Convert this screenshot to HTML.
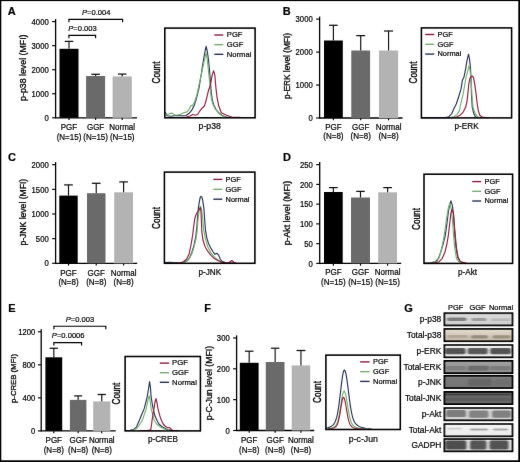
<!DOCTYPE html><html><head><meta charset="utf-8"><style>html,body{margin:0;padding:0;background:#fff;}svg{display:block;will-change:transform;font-family:"Liberation Sans",sans-serif;}text{stroke:#000;stroke-width:0.2px;paint-order:stroke;}text.r{stroke-width:0.3px;}</style></head><body>
<svg width="520" height="462" viewBox="0 0 520 462">
<rect x="0" y="0" width="520" height="462" fill="#fff"/>
<defs><filter id="soft" x="0" y="0" width="100%" height="100%" filterUnits="userSpaceOnUse"><feConvolveMatrix order="3" kernelMatrix="0.00276 0.04704 0.00276 0.04704 0.80077 0.04704 0.00276 0.04704 0.00276" edgeMode="duplicate" preserveAlpha="false"/></filter></defs><g filter="url(#soft)">
<text x="0" y="0" font-size="11" text-anchor="start" font-weight="bold" font-style="normal" fill="#000" transform="translate(7.8 15)">A</text>
<line x1="55.6" y1="19" x2="55.6" y2="118.4" stroke="#000" stroke-width="1.3"/>
<line x1="52.1" y1="117.8" x2="55.6" y2="117.8" stroke="#000" stroke-width="1.15"/>
<text x="0" y="0" font-size="7.7" text-anchor="end" font-weight="normal" font-style="normal" fill="#000" transform="translate(48.7 120.95) scale(1.0 1.2)">0</text>
<line x1="52.1" y1="93.75" x2="55.6" y2="93.75" stroke="#000" stroke-width="1.15"/>
<text x="0" y="0" font-size="7.7" text-anchor="end" font-weight="normal" font-style="normal" fill="#000" transform="translate(48.7 96.9) scale(1.0 1.2)">1000</text>
<line x1="52.1" y1="69.7" x2="55.6" y2="69.7" stroke="#000" stroke-width="1.15"/>
<text x="0" y="0" font-size="7.7" text-anchor="end" font-weight="normal" font-style="normal" fill="#000" transform="translate(48.7 72.85) scale(1.0 1.2)">2000</text>
<line x1="52.1" y1="45.65" x2="55.6" y2="45.65" stroke="#000" stroke-width="1.15"/>
<text x="0" y="0" font-size="7.7" text-anchor="end" font-weight="normal" font-style="normal" fill="#000" transform="translate(48.7 48.8) scale(1.0 1.2)">3000</text>
<line x1="52.1" y1="21.6" x2="55.6" y2="21.6" stroke="#000" stroke-width="1.15"/>
<text x="0" y="0" font-size="7.7" text-anchor="end" font-weight="normal" font-style="normal" fill="#000" transform="translate(48.7 24.75) scale(1.0 1.2)">4000</text>
<line x1="55.6" y1="117.8" x2="137" y2="117.8" stroke="#000" stroke-width="1.35"/>
<rect x="59.5" y="48.8" width="19" height="69" fill="#000000"/>
<line x1="69" y1="41.4" x2="69" y2="48.8" stroke="#111" stroke-width="1.15"/>
<line x1="64.75" y1="41.4" x2="73.25" y2="41.4" stroke="#111" stroke-width="1.25"/>
<line x1="69" y1="117.8" x2="69" y2="120.1" stroke="#000" stroke-width="1.15"/>
<text x="0" y="0" font-size="8" text-anchor="middle" font-weight="normal" font-style="normal" fill="#000" transform="translate(69 130.4) scale(1.0 1.05)">PGF</text>
<text x="0" y="0" font-size="8" text-anchor="middle" font-weight="normal" font-style="normal" fill="#000" transform="translate(69 139.6) scale(1.0 1.05)">(N=15)</text>
<rect x="86.1" y="76" width="19" height="41.8" fill="#6a6a6a"/>
<line x1="95.6" y1="74.3" x2="95.6" y2="76" stroke="#111" stroke-width="1.15"/>
<line x1="91.35" y1="74.3" x2="99.85" y2="74.3" stroke="#111" stroke-width="1.25"/>
<line x1="95.6" y1="117.8" x2="95.6" y2="120.1" stroke="#000" stroke-width="1.15"/>
<text x="0" y="0" font-size="8" text-anchor="middle" font-weight="normal" font-style="normal" fill="#000" transform="translate(95.6 130.4) scale(1.0 1.05)">GGF</text>
<text x="0" y="0" font-size="8" text-anchor="middle" font-weight="normal" font-style="normal" fill="#000" transform="translate(95.6 139.6) scale(1.0 1.05)">(N=15)</text>
<rect x="112.6" y="76.4" width="19.2" height="41.4" fill="#b3b3b3"/>
<line x1="122.2" y1="74.1" x2="122.2" y2="76.4" stroke="#111" stroke-width="1.15"/>
<line x1="117.95" y1="74.1" x2="126.45" y2="74.1" stroke="#111" stroke-width="1.25"/>
<line x1="122.2" y1="117.8" x2="122.2" y2="120.1" stroke="#000" stroke-width="1.15"/>
<text x="0" y="0" font-size="8" text-anchor="middle" font-weight="normal" font-style="normal" fill="#000" transform="translate(122.2 130.4) scale(1.0 1.05)">Normal</text>
<text x="0" y="0" font-size="8" text-anchor="middle" font-weight="normal" font-style="normal" fill="#000" transform="translate(122.2 139.6) scale(1.0 1.05)">(N=15)</text>
<text class="r" x="0" y="0" font-size="8.3" text-anchor="middle" font-weight="normal" font-style="normal" fill="#000" transform="translate(25.6 67.7) rotate(-90) scale(1.06 1.0)">p-p38 level (MFI)</text>
<polyline points="68.9,22.3 68.9,19.3 122.6,19.3 122.6,22.3" fill="none" stroke="#000" stroke-width="1.15"/>
<text x="0" y="0" font-size="7.6" text-anchor="middle" fill="#000" transform="translate(96.2 14.8) scale(1 1.05)"><tspan font-style="italic">P</tspan>=0.004</text>
<polyline points="68.9,38.2 68.9,35.3 95.6,35.3 95.6,38.2" fill="none" stroke="#000" stroke-width="1.15"/>
<text x="0" y="0" font-size="7.6" text-anchor="middle" fill="#000" transform="translate(82.5 31.1) scale(1 1.05)"><tspan font-style="italic">P</tspan>=0.003</text>
<polyline points="165.4,112.5 167,115.8 171,116.2 176.4,115.5 181.2,115.8 186,115.5 188.9,113.6 191.8,110.2 194.2,105.4 196.1,99.6 197.6,93.8 199,88 200.3,80 201.3,74 202.3,67 203.5,60 204.8,52.5 206.1,46.4 207.4,52 208.5,60 209.3,68 210,76 210.6,84 211.2,92 212.3,100 213.8,105 216,109.5 219,113 222,115.5 226,117 230,117.5" fill="none" stroke="#283455" stroke-width="1.15" stroke-linejoin="round" stroke-linecap="round"/>
<polyline points="165.4,114 168,114.2 171.6,113.1 175.5,115.2 180.3,114.5 184.1,112.6 187,111.9 189.4,108.8 190.8,105.4 192.3,106.1 194.7,101.5 196.6,95.8 198,90 199.4,83 201,76 202.5,69 203.8,63 205,57.5 206,52.8 207,58 208,66 208.8,74 209.6,82 210.3,90 211.3,98 212.8,104 215,108.5 218,112.5 221.5,115.5 225,117 229,117.5" fill="none" stroke="#76b070" stroke-width="1.15" stroke-linejoin="round" stroke-linecap="round"/>
<polyline points="182,117.4 186,117.2 189.9,116 192.8,114.5 195.2,115.2 197.6,114.5 200,110.7 202.4,107.8 204.3,106.3 205.8,101.5 207.2,95.8 208.6,90 210.2,86 211.3,80 212.3,74.6 213.5,70.8 214.8,74.6 215.8,86.7 217,97.1 218.7,105.7 221.3,112.7 226.5,115.3 231.7,117 240,117.4" fill="none" stroke="#8e1d3f" stroke-width="1.15" stroke-linejoin="round" stroke-linecap="round"/>
<rect x="164.8" y="28.1" width="90.3" height="89.7" fill="none" stroke="#000" stroke-width="1.55"/>
<line x1="214.3" y1="35" x2="223.3" y2="35" stroke="#8e1d3f" stroke-width="1.4"/>
<text x="0" y="0" font-size="7.65" text-anchor="start" font-weight="normal" font-style="normal" fill="#000" transform="translate(226.8 37.3) scale(1.0 1.05)">PGF</text>
<line x1="214.3" y1="44.65" x2="223.3" y2="44.65" stroke="#76b070" stroke-width="1.4"/>
<text x="0" y="0" font-size="7.65" text-anchor="start" font-weight="normal" font-style="normal" fill="#000" transform="translate(226.8 46.95) scale(1.0 1.05)">GGF</text>
<line x1="214.3" y1="54.3" x2="223.3" y2="54.3" stroke="#283455" stroke-width="1.4"/>
<text x="0" y="0" font-size="7.65" text-anchor="start" font-weight="normal" font-style="normal" fill="#000" transform="translate(226.8 56.6) scale(1.0 1.05)">Normal</text>
<text x="0" y="0" font-size="8.7" text-anchor="middle" font-weight="normal" font-style="normal" fill="#000" transform="translate(209.7 128.6) scale(1.0 1.05)">p-p38</text>
<text class="r" x="0" y="0" font-size="8.2" text-anchor="middle" font-weight="normal" font-style="normal" fill="#000" transform="translate(159.6 72.5) rotate(-90) scale(1.0 1.25)">Count</text>
<text x="0" y="0" font-size="11" text-anchor="start" font-weight="bold" font-style="normal" fill="#000" transform="translate(282.7 14.6)">B</text>
<line x1="319.6" y1="16.55" x2="319.6" y2="118.6" stroke="#000" stroke-width="1.3"/>
<line x1="316.1" y1="118" x2="319.6" y2="118" stroke="#000" stroke-width="1.15"/>
<text x="0" y="0" font-size="7.7" text-anchor="end" font-weight="normal" font-style="normal" fill="#000" transform="translate(312.7 121.15) scale(1.0 1.2)">0</text>
<line x1="316.1" y1="85.05" x2="319.6" y2="85.05" stroke="#000" stroke-width="1.15"/>
<text x="0" y="0" font-size="7.7" text-anchor="end" font-weight="normal" font-style="normal" fill="#000" transform="translate(312.7 88.2) scale(1.0 1.2)">1000</text>
<line x1="316.1" y1="52.1" x2="319.6" y2="52.1" stroke="#000" stroke-width="1.15"/>
<text x="0" y="0" font-size="7.7" text-anchor="end" font-weight="normal" font-style="normal" fill="#000" transform="translate(312.7 55.25) scale(1.0 1.2)">2000</text>
<line x1="316.1" y1="19.15" x2="319.6" y2="19.15" stroke="#000" stroke-width="1.15"/>
<text x="0" y="0" font-size="7.7" text-anchor="end" font-weight="normal" font-style="normal" fill="#000" transform="translate(312.7 22.3) scale(1.0 1.2)">3000</text>
<line x1="319.6" y1="118" x2="402.5" y2="118" stroke="#000" stroke-width="1.35"/>
<rect x="324" y="40.5" width="18.8" height="77.5" fill="#000000"/>
<line x1="333.4" y1="25.3" x2="333.4" y2="40.5" stroke="#111" stroke-width="1.15"/>
<line x1="329.1" y1="25.3" x2="337.7" y2="25.3" stroke="#111" stroke-width="1.25"/>
<line x1="333.4" y1="118" x2="333.4" y2="120.3" stroke="#000" stroke-width="1.15"/>
<text x="0" y="0" font-size="8" text-anchor="middle" font-weight="normal" font-style="normal" fill="#000" transform="translate(333.4 130.2) scale(1.0 1.05)">PGF</text>
<text x="0" y="0" font-size="8" text-anchor="middle" font-weight="normal" font-style="normal" fill="#000" transform="translate(333.4 139.4) scale(1.0 1.05)">(N=8)</text>
<rect x="351.3" y="50.5" width="18.8" height="67.5" fill="#6a6a6a"/>
<line x1="360.7" y1="35.6" x2="360.7" y2="50.5" stroke="#111" stroke-width="1.15"/>
<line x1="356.2" y1="35.6" x2="365.2" y2="35.6" stroke="#111" stroke-width="1.25"/>
<line x1="360.7" y1="118" x2="360.7" y2="120.3" stroke="#000" stroke-width="1.15"/>
<text x="0" y="0" font-size="8" text-anchor="middle" font-weight="normal" font-style="normal" fill="#000" transform="translate(360.7 130.2) scale(1.0 1.05)">GGF</text>
<text x="0" y="0" font-size="8" text-anchor="middle" font-weight="normal" font-style="normal" fill="#000" transform="translate(360.7 139.4) scale(1.0 1.05)">(N=8)</text>
<rect x="379" y="50.5" width="19.1" height="67.5" fill="#b3b3b3"/>
<line x1="388.55" y1="31" x2="388.55" y2="50.5" stroke="#111" stroke-width="1.15"/>
<line x1="384.05" y1="31" x2="393.05" y2="31" stroke="#111" stroke-width="1.25"/>
<line x1="388.55" y1="118" x2="388.55" y2="120.3" stroke="#000" stroke-width="1.15"/>
<text x="0" y="0" font-size="8" text-anchor="middle" font-weight="normal" font-style="normal" fill="#000" transform="translate(388.55 130.2) scale(1.0 1.05)">Normal</text>
<text x="0" y="0" font-size="8" text-anchor="middle" font-weight="normal" font-style="normal" fill="#000" transform="translate(388.55 139.4) scale(1.0 1.05)">(N=8)</text>
<text class="r" x="0" y="0" font-size="8.3" text-anchor="middle" font-weight="normal" font-style="normal" fill="#000" transform="translate(290.2 66) rotate(-90)">p-ERK level (MFI)</text>
<polyline points="421.8,117.8 440,117.7 445,117.6 448.8,116.7 451.8,113.6 454.1,108.3 456.4,103.8 458.6,97 460.9,89.4 462.4,80.3 463.9,77.3 465.5,69.7 467,60.6 468.5,54.2 469.5,59 470.5,68.2 471.1,80.3 471.5,95.5 472.3,107.6 473.8,113.6 475.3,116.7 478,117.8" fill="none" stroke="#283455" stroke-width="1.15" stroke-linejoin="round" stroke-linecap="round"/>
<polyline points="446,117.8 450,117.6 454.1,116.7 457.1,114.4 459.4,110.6 460.9,103 463.2,93.9 464.7,84.8 466.2,76.5 467.7,71.2 468.9,65.9 470,69.7 471.1,80.3 472,95.5 473,107.6 475.3,113.6 477.6,116.7 481,117.8" fill="none" stroke="#76b070" stroke-width="1.15" stroke-linejoin="round" stroke-linecap="round"/>
<polyline points="448,117.8 452,117.6 456.4,117 460.2,115.2 463.2,112.1 465.5,107.6 467,101.5 468,92.4 468.9,83.3 470,78 472,75.8 473.5,77.3 474.8,84.8 476.1,93.9 477.1,103 478.3,110.6 479.8,115.2 482.1,117 488,117.8" fill="none" stroke="#8e1d3f" stroke-width="1.15" stroke-linejoin="round" stroke-linecap="round"/>
<rect x="421.4" y="27.9" width="90.2" height="90" fill="none" stroke="#000" stroke-width="1.55"/>
<line x1="425.2" y1="34.5" x2="434.2" y2="34.5" stroke="#8e1d3f" stroke-width="1.4"/>
<text x="0" y="0" font-size="7.4" text-anchor="start" font-weight="normal" font-style="normal" fill="#000" transform="translate(437.5 36.8) scale(1.0 1.05)">PGF</text>
<line x1="425.2" y1="44.3" x2="434.2" y2="44.3" stroke="#76b070" stroke-width="1.4"/>
<text x="0" y="0" font-size="7.4" text-anchor="start" font-weight="normal" font-style="normal" fill="#000" transform="translate(437.5 46.6) scale(1.0 1.05)">GGF</text>
<line x1="425.2" y1="54.1" x2="434.2" y2="54.1" stroke="#283455" stroke-width="1.4"/>
<text x="0" y="0" font-size="7.4" text-anchor="start" font-weight="normal" font-style="normal" fill="#000" transform="translate(437.5 56.4) scale(1.0 1.05)">Normal</text>
<text x="0" y="0" font-size="8.2" text-anchor="middle" font-weight="normal" font-style="normal" fill="#000" transform="translate(466.6 128.8) scale(1.0 1.05)">p-ERK</text>
<text class="r" x="0" y="0" font-size="8.2" text-anchor="middle" font-weight="normal" font-style="normal" fill="#000" transform="translate(417.4 72.5) rotate(-90) scale(1.0 1.25)">Count</text>
<text x="0" y="0" font-size="11" text-anchor="start" font-weight="bold" font-style="normal" fill="#000" transform="translate(7.9 161)">C</text>
<line x1="55.6" y1="162.1" x2="55.6" y2="263.9" stroke="#000" stroke-width="1.3"/>
<line x1="52.1" y1="263.3" x2="55.6" y2="263.3" stroke="#000" stroke-width="1.15"/>
<text x="0" y="0" font-size="7.7" text-anchor="end" font-weight="normal" font-style="normal" fill="#000" transform="translate(48.7 266.45) scale(1.0 1.2)">0</text>
<line x1="52.1" y1="238.65" x2="55.6" y2="238.65" stroke="#000" stroke-width="1.15"/>
<text x="0" y="0" font-size="7.7" text-anchor="end" font-weight="normal" font-style="normal" fill="#000" transform="translate(48.7 241.8) scale(1.0 1.2)">500</text>
<line x1="52.1" y1="214" x2="55.6" y2="214" stroke="#000" stroke-width="1.15"/>
<text x="0" y="0" font-size="7.7" text-anchor="end" font-weight="normal" font-style="normal" fill="#000" transform="translate(48.7 217.15) scale(1.0 1.2)">1000</text>
<line x1="52.1" y1="189.35" x2="55.6" y2="189.35" stroke="#000" stroke-width="1.15"/>
<text x="0" y="0" font-size="7.7" text-anchor="end" font-weight="normal" font-style="normal" fill="#000" transform="translate(48.7 192.5) scale(1.0 1.2)">1500</text>
<line x1="52.1" y1="164.7" x2="55.6" y2="164.7" stroke="#000" stroke-width="1.15"/>
<text x="0" y="0" font-size="7.7" text-anchor="end" font-weight="normal" font-style="normal" fill="#000" transform="translate(48.7 167.85) scale(1.0 1.2)">2000</text>
<line x1="55.6" y1="263.3" x2="137.2" y2="263.3" stroke="#000" stroke-width="1.35"/>
<rect x="59.3" y="195.6" width="18.4" height="67.7" fill="#000000"/>
<line x1="68.5" y1="184.9" x2="68.5" y2="195.6" stroke="#111" stroke-width="1.15"/>
<line x1="64.15" y1="184.9" x2="72.85" y2="184.9" stroke="#111" stroke-width="1.25"/>
<line x1="68.5" y1="263.3" x2="68.5" y2="265.6" stroke="#000" stroke-width="1.15"/>
<text x="0" y="0" font-size="8" text-anchor="middle" font-weight="normal" font-style="normal" fill="#000" transform="translate(68.5 275.7) scale(1.0 1.05)">PGF</text>
<text x="0" y="0" font-size="8" text-anchor="middle" font-weight="normal" font-style="normal" fill="#000" transform="translate(68.5 285.3) scale(1.0 1.05)">(N=8)</text>
<rect x="87" y="193.2" width="18.5" height="70.1" fill="#6a6a6a"/>
<line x1="96.25" y1="183.3" x2="96.25" y2="193.2" stroke="#111" stroke-width="1.15"/>
<line x1="91.9" y1="183.3" x2="100.6" y2="183.3" stroke="#111" stroke-width="1.25"/>
<line x1="96.25" y1="263.3" x2="96.25" y2="265.6" stroke="#000" stroke-width="1.15"/>
<text x="0" y="0" font-size="8" text-anchor="middle" font-weight="normal" font-style="normal" fill="#000" transform="translate(96.25 275.7) scale(1.0 1.05)">GGF</text>
<text x="0" y="0" font-size="8" text-anchor="middle" font-weight="normal" font-style="normal" fill="#000" transform="translate(96.25 285.3) scale(1.0 1.05)">(N=8)</text>
<rect x="114.2" y="192.3" width="18.8" height="71" fill="#b3b3b3"/>
<line x1="123.6" y1="181.9" x2="123.6" y2="192.3" stroke="#111" stroke-width="1.15"/>
<line x1="119.25" y1="181.9" x2="127.95" y2="181.9" stroke="#111" stroke-width="1.25"/>
<line x1="123.6" y1="263.3" x2="123.6" y2="265.6" stroke="#000" stroke-width="1.15"/>
<text x="0" y="0" font-size="8" text-anchor="middle" font-weight="normal" font-style="normal" fill="#000" transform="translate(123.6 275.7) scale(1.0 1.05)">Normal</text>
<text x="0" y="0" font-size="8" text-anchor="middle" font-weight="normal" font-style="normal" fill="#000" transform="translate(123.6 285.3) scale(1.0 1.05)">(N=8)</text>
<text class="r" x="0" y="0" font-size="8.3" text-anchor="middle" font-weight="normal" font-style="normal" fill="#000" transform="translate(26.1 212.2) rotate(-90) scale(1.035 1.0)">p-JNK level (MFI)</text>
<polyline points="164.8,262.6 170,262.2 175,262.8 181,262.8 184.3,262.1 187.5,260.5 189.8,257.4 191.7,252.7 193.7,246.5 195.7,237.2 196.8,227.8 197.6,216.9 198.4,207.6 199.4,201.3 200.2,197.3 201,196.4 201.9,197.2 202.6,199.8 203.8,207.6 204.6,218.5 205.4,229.4 206.6,237.2 208.5,243.4 210.8,248.1 213.2,252 215,254.3 217,253.3 218.6,255.1 220.2,259 222,261.3 226,262.8 235,263" fill="none" stroke="#283455" stroke-width="1.15" stroke-linejoin="round" stroke-linecap="round"/>
<polyline points="178,263 183,262.6 185.9,261.8 189,259 191.7,254.3 193.7,248.1 195.7,240.3 197,232.5 198,220 199.1,210.7 200.4,206 201.5,209.1 202.6,218.5 203.8,230.9 205.4,238.7 207.7,246.5 210.8,252.7 214.7,257.4 218.6,260.5 222,262.5 228,263" fill="none" stroke="#76b070" stroke-width="1.15" stroke-linejoin="round" stroke-linecap="round"/>
<polyline points="175,263 180,262.7 183.6,261.8 186.7,259 189,254.3 191,245 192.6,235.6 193.7,226.3 194.8,218.5 196.3,213.8 198.4,210.7 200.4,207.6 201,212.2 201.5,223.2 201.9,232.5 203,240.3 205,246.5 207.7,251.2 210.8,255.1 213.9,258.2 217.8,260.5 222,262.3 228,263 230,261.8 231.9,260.5 233.8,262.2 236,263" fill="none" stroke="#8e1d3f" stroke-width="1.15" stroke-linejoin="round" stroke-linecap="round"/>
<rect x="164.4" y="172.1" width="90.5" height="91.2" fill="none" stroke="#000" stroke-width="1.55"/>
<line x1="213.3" y1="179.4" x2="222.3" y2="179.4" stroke="#8e1d3f" stroke-width="1.4"/>
<text x="0" y="0" font-size="7.4" text-anchor="start" font-weight="normal" font-style="normal" fill="#000" transform="translate(225.6 181.7) scale(1.0 1.05)">PGF</text>
<line x1="213.3" y1="189.3" x2="222.3" y2="189.3" stroke="#76b070" stroke-width="1.4"/>
<text x="0" y="0" font-size="7.4" text-anchor="start" font-weight="normal" font-style="normal" fill="#000" transform="translate(225.6 191.6) scale(1.0 1.05)">GGF</text>
<line x1="213.3" y1="199.2" x2="222.3" y2="199.2" stroke="#283455" stroke-width="1.4"/>
<text x="0" y="0" font-size="7.4" text-anchor="start" font-weight="normal" font-style="normal" fill="#000" transform="translate(225.6 201.5) scale(1.0 1.05)">Normal</text>
<text x="0" y="0" font-size="8.2" text-anchor="middle" font-weight="normal" font-style="normal" fill="#000" transform="translate(209.8 274.6) scale(1.0 1.05)">p-JNK</text>
<text class="r" x="0" y="0" font-size="8.2" text-anchor="middle" font-weight="normal" font-style="normal" fill="#000" transform="translate(159.6 218) rotate(-90) scale(1.0 1.25)">Count</text>
<text x="0" y="0" font-size="11" text-anchor="start" font-weight="bold" font-style="normal" fill="#000" transform="translate(283 161)">D</text>
<line x1="319.7" y1="162.05" x2="319.7" y2="264" stroke="#000" stroke-width="1.3"/>
<line x1="316.2" y1="263.4" x2="319.7" y2="263.4" stroke="#000" stroke-width="1.15"/>
<text x="0" y="0" font-size="7.7" text-anchor="end" font-weight="normal" font-style="normal" fill="#000" transform="translate(312.8 266.55) scale(1.0 1.2)">0</text>
<line x1="316.2" y1="243.65" x2="319.7" y2="243.65" stroke="#000" stroke-width="1.15"/>
<text x="0" y="0" font-size="7.7" text-anchor="end" font-weight="normal" font-style="normal" fill="#000" transform="translate(312.8 246.8) scale(1.0 1.2)">50</text>
<line x1="316.2" y1="223.9" x2="319.7" y2="223.9" stroke="#000" stroke-width="1.15"/>
<text x="0" y="0" font-size="7.7" text-anchor="end" font-weight="normal" font-style="normal" fill="#000" transform="translate(312.8 227.05) scale(1.0 1.2)">100</text>
<line x1="316.2" y1="204.15" x2="319.7" y2="204.15" stroke="#000" stroke-width="1.15"/>
<text x="0" y="0" font-size="7.7" text-anchor="end" font-weight="normal" font-style="normal" fill="#000" transform="translate(312.8 207.3) scale(1.0 1.2)">150</text>
<line x1="316.2" y1="184.4" x2="319.7" y2="184.4" stroke="#000" stroke-width="1.15"/>
<text x="0" y="0" font-size="7.7" text-anchor="end" font-weight="normal" font-style="normal" fill="#000" transform="translate(312.8 187.55) scale(1.0 1.2)">200</text>
<line x1="316.2" y1="164.65" x2="319.7" y2="164.65" stroke="#000" stroke-width="1.15"/>
<text x="0" y="0" font-size="7.7" text-anchor="end" font-weight="normal" font-style="normal" fill="#000" transform="translate(312.8 167.8) scale(1.0 1.2)">250</text>
<line x1="319.7" y1="263.4" x2="401.2" y2="263.4" stroke="#000" stroke-width="1.35"/>
<rect x="324" y="192" width="18.7" height="71.4" fill="#000000"/>
<line x1="333.35" y1="187.6" x2="333.35" y2="192" stroke="#111" stroke-width="1.15"/>
<line x1="329" y1="187.6" x2="337.7" y2="187.6" stroke="#111" stroke-width="1.25"/>
<line x1="333.35" y1="263.4" x2="333.35" y2="265.7" stroke="#000" stroke-width="1.15"/>
<text x="0" y="0" font-size="8" text-anchor="middle" font-weight="normal" font-style="normal" fill="#000" transform="translate(333.35 275.1) scale(1.0 1.05)">PGF</text>
<text x="0" y="0" font-size="8" text-anchor="middle" font-weight="normal" font-style="normal" fill="#000" transform="translate(333.35 284.6) scale(1.0 1.05)">(N=15)</text>
<rect x="351" y="197.5" width="19" height="65.9" fill="#6a6a6a"/>
<line x1="360.5" y1="191.4" x2="360.5" y2="197.5" stroke="#111" stroke-width="1.15"/>
<line x1="356.2" y1="191.4" x2="364.8" y2="191.4" stroke="#111" stroke-width="1.25"/>
<line x1="360.5" y1="263.4" x2="360.5" y2="265.7" stroke="#000" stroke-width="1.15"/>
<text x="0" y="0" font-size="8" text-anchor="middle" font-weight="normal" font-style="normal" fill="#000" transform="translate(360.5 275.1) scale(1.0 1.05)">GGF</text>
<text x="0" y="0" font-size="8" text-anchor="middle" font-weight="normal" font-style="normal" fill="#000" transform="translate(360.5 284.6) scale(1.0 1.05)">(N=15)</text>
<rect x="378.2" y="192.3" width="18.8" height="71.1" fill="#b3b3b3"/>
<line x1="387.6" y1="187.6" x2="387.6" y2="192.3" stroke="#111" stroke-width="1.15"/>
<line x1="383.25" y1="187.6" x2="391.95" y2="187.6" stroke="#111" stroke-width="1.25"/>
<line x1="387.6" y1="263.4" x2="387.6" y2="265.7" stroke="#000" stroke-width="1.15"/>
<text x="0" y="0" font-size="8" text-anchor="middle" font-weight="normal" font-style="normal" fill="#000" transform="translate(387.6 275.1) scale(1.0 1.05)">Normal</text>
<text x="0" y="0" font-size="8" text-anchor="middle" font-weight="normal" font-style="normal" fill="#000" transform="translate(387.6 284.6) scale(1.0 1.05)">(N=15)</text>
<text class="r" x="0" y="0" font-size="8.3" text-anchor="middle" font-weight="normal" font-style="normal" fill="#000" transform="translate(290.4 213.1) rotate(-90) scale(1.06 1.0)">p-Akt level (MFI)</text>
<polyline points="424.5,263 430,262.9 435.3,261.7 438.3,258.6 440.6,252.6 442.9,245 445.2,235.9 446.7,225.3 448.2,213.2 449.4,205.6 450.9,200.8 452.4,205.6 453.5,214.7 454.2,225.3 455,237.4 456.1,248 457.6,257.1 460.3,261.7 465,263" fill="none" stroke="#283455" stroke-width="1.15" stroke-linejoin="round" stroke-linecap="round"/>
<polyline points="430,263 433.5,262.8 436.8,261.7 439.4,257.1 441.8,248 443.6,238.9 445.2,228.3 446.7,217.7 448.2,208.6 449.7,203.3 451.2,208.6 452.4,219.2 453.5,234.4 454.7,248 456.5,258.6 458.8,261.7 463,263" fill="none" stroke="#76b070" stroke-width="1.15" stroke-linejoin="round" stroke-linecap="round"/>
<polyline points="432,263 435.5,262.8 439.1,261.7 442.1,258.6 444.8,252.6 447,243.5 448.5,234.4 449.7,223.8 450.9,213.2 452,209.4 453.5,213.2 454.2,223.8 455.3,235.9 456.5,248 458,257.1 460.3,261.7 466,263" fill="none" stroke="#8e1d3f" stroke-width="1.15" stroke-linejoin="round" stroke-linecap="round"/>
<rect x="424" y="174.2" width="88.6" height="89.2" fill="none" stroke="#000" stroke-width="1.55"/>
<line x1="472.2" y1="181.6" x2="481.2" y2="181.6" stroke="#8e1d3f" stroke-width="1.4"/>
<text x="0" y="0" font-size="7.4" text-anchor="start" font-weight="normal" font-style="normal" fill="#000" transform="translate(484.5 183.9) scale(1.0 1.05)">PGF</text>
<line x1="472.2" y1="191.3" x2="481.2" y2="191.3" stroke="#76b070" stroke-width="1.4"/>
<text x="0" y="0" font-size="7.4" text-anchor="start" font-weight="normal" font-style="normal" fill="#000" transform="translate(484.5 193.6) scale(1.0 1.05)">GGF</text>
<line x1="472.2" y1="201" x2="481.2" y2="201" stroke="#283455" stroke-width="1.4"/>
<text x="0" y="0" font-size="7.4" text-anchor="start" font-weight="normal" font-style="normal" fill="#000" transform="translate(484.5 203.3) scale(1.0 1.05)">Normal</text>
<text x="0" y="0" font-size="8.2" text-anchor="middle" font-weight="normal" font-style="normal" fill="#000" transform="translate(467.6 274.6) scale(1.0 1.05)">p-Akt</text>
<text class="r" x="0" y="0" font-size="8.2" text-anchor="middle" font-weight="normal" font-style="normal" fill="#000" transform="translate(420.3 219) rotate(-90) scale(1.0 1.25)">Count</text>
<text x="0" y="0" font-size="11" text-anchor="start" font-weight="bold" font-style="normal" fill="#000" transform="translate(8.3 312)">E</text>
<line x1="41.2" y1="329.15" x2="41.2" y2="431.5" stroke="#000" stroke-width="1.3"/>
<line x1="37.9" y1="430.9" x2="41.2" y2="430.9" stroke="#000" stroke-width="1.15"/>
<text x="0" y="0" font-size="7.7" text-anchor="end" font-weight="normal" font-style="normal" fill="#000" transform="translate(35.4 434.05) scale(1.0 1.2)">0</text>
<line x1="37.9" y1="397.85" x2="41.2" y2="397.85" stroke="#000" stroke-width="1.15"/>
<text x="0" y="0" font-size="7.7" text-anchor="end" font-weight="normal" font-style="normal" fill="#000" transform="translate(35.4 401) scale(1.0 1.2)">400</text>
<line x1="37.9" y1="364.8" x2="41.2" y2="364.8" stroke="#000" stroke-width="1.15"/>
<text x="0" y="0" font-size="7.7" text-anchor="end" font-weight="normal" font-style="normal" fill="#000" transform="translate(35.4 367.95) scale(1.0 1.2)">800</text>
<line x1="37.9" y1="331.75" x2="41.2" y2="331.75" stroke="#000" stroke-width="1.15"/>
<text x="0" y="0" font-size="7.7" text-anchor="end" font-weight="normal" font-style="normal" fill="#000" transform="translate(35.4 334.9) scale(1.0 1.2)">1200</text>
<line x1="41.2" y1="430.9" x2="115.7" y2="430.9" stroke="#000" stroke-width="1.35"/>
<rect x="45.4" y="357.3" width="16.8" height="73.6" fill="#000000"/>
<line x1="53.8" y1="348.3" x2="53.8" y2="357.3" stroke="#111" stroke-width="1.15"/>
<line x1="49.7" y1="348.3" x2="57.9" y2="348.3" stroke="#111" stroke-width="1.25"/>
<line x1="53.8" y1="430.9" x2="53.8" y2="433.2" stroke="#000" stroke-width="1.15"/>
<text x="0" y="0" font-size="8" text-anchor="middle" font-weight="normal" font-style="normal" fill="#000" transform="translate(53.8 443) scale(1.0 1.05)">PGF</text>
<text x="0" y="0" font-size="8" text-anchor="middle" font-weight="normal" font-style="normal" fill="#000" transform="translate(53.8 452.6) scale(1.0 1.05)">(N=8)</text>
<rect x="69.9" y="399.9" width="16.5" height="31" fill="#6a6a6a"/>
<line x1="78.15" y1="395.9" x2="78.15" y2="399.9" stroke="#111" stroke-width="1.15"/>
<line x1="74.15" y1="395.9" x2="82.15" y2="395.9" stroke="#111" stroke-width="1.25"/>
<line x1="78.15" y1="430.9" x2="78.15" y2="433.2" stroke="#000" stroke-width="1.15"/>
<text x="0" y="0" font-size="8" text-anchor="middle" font-weight="normal" font-style="normal" fill="#000" transform="translate(78.15 443) scale(1.0 1.05)">GGF</text>
<text x="0" y="0" font-size="8" text-anchor="middle" font-weight="normal" font-style="normal" fill="#000" transform="translate(78.15 452.6) scale(1.0 1.05)">(N=8)</text>
<rect x="93.2" y="401.4" width="17.1" height="29.5" fill="#b3b3b3"/>
<line x1="101.75" y1="394.5" x2="101.75" y2="401.4" stroke="#111" stroke-width="1.15"/>
<line x1="97.6" y1="394.5" x2="105.9" y2="394.5" stroke="#111" stroke-width="1.25"/>
<line x1="101.75" y1="430.9" x2="101.75" y2="433.2" stroke="#000" stroke-width="1.15"/>
<text x="0" y="0" font-size="8" text-anchor="middle" font-weight="normal" font-style="normal" fill="#000" transform="translate(101.75 443) scale(1.0 1.05)">Normal</text>
<text x="0" y="0" font-size="8" text-anchor="middle" font-weight="normal" font-style="normal" fill="#000" transform="translate(101.75 452.6) scale(1.0 1.05)">(N=8)</text>
<text class="r" x="0" y="0" font-size="7.6" text-anchor="middle" font-weight="normal" font-style="normal" fill="#000" transform="translate(15.9 378.5) rotate(-90) scale(1.02 1.0)">p-CREB (MFI)</text>
<polyline points="53.9,329.2 53.9,326.2 105.8,326.2 105.8,329.2" fill="none" stroke="#000" stroke-width="1.15"/>
<text x="0" y="0" font-size="7.6" text-anchor="middle" fill="#000" transform="translate(79.9 321.6) scale(1 1.05)"><tspan font-style="italic">P</tspan>=0.003</text>
<polyline points="53.9,345.6 53.9,342.6 81.6,342.6 81.6,345.6" fill="none" stroke="#000" stroke-width="1.15"/>
<text x="0" y="0" font-size="7.6" text-anchor="middle" fill="#000" transform="translate(68.2 338.3) scale(1 1.05)"><tspan font-style="italic">P</tspan>=0.0006</text>
<polyline points="125.5,430.5 130,430.4 133.6,429.6 136.5,426.9 139.5,420 141.8,414.2 143,411.5 144.3,408.4 145.8,402.5 147.2,396.7 148.5,389 149.6,381.7 150.5,388 151.1,396.7 152.1,403 153.1,408.4 155,416.1 157,420.5 158.9,424 161.5,426.3 163.8,427.8 167.7,429.8 172,430.4 178,430.5" fill="none" stroke="#283455" stroke-width="1.15" stroke-linejoin="round" stroke-linecap="round"/>
<polyline points="130,430.5 134.5,430 137.5,427.8 140,424 142.4,420 144.5,414 146.3,408.4 147.8,401 149.2,395.7 150.2,401 151.1,408.4 152.5,414 154,420 157,424.5 161.8,427.8 166,429.8 171,430.5" fill="none" stroke="#76b070" stroke-width="1.15" stroke-linejoin="round" stroke-linecap="round"/>
<polyline points="140,430.5 147,430.5 150.7,429.8 151.5,425 152.1,420 153,414 154,408.4 155,402 156,398.6 157,402.5 157.9,408.4 159.9,416.1 161.5,420.5 163.2,424 165.5,426.5 167.7,427.8 169.6,427.6 171,429 172.5,430.2 178,430.5" fill="none" stroke="#8e1d3f" stroke-width="1.15" stroke-linejoin="round" stroke-linecap="round"/>
<rect x="125.1" y="356.5" width="75.3" height="74.4" fill="none" stroke="#000" stroke-width="1.55"/>
<line x1="159.8" y1="363.1" x2="169.1" y2="363.1" stroke="#8e1d3f" stroke-width="1.4"/>
<text x="0" y="0" font-size="7.7" text-anchor="start" font-weight="normal" font-style="normal" fill="#000" transform="translate(172.1 365.4) scale(1.0 1.05)">PGF</text>
<line x1="159.8" y1="372.7" x2="169.1" y2="372.7" stroke="#76b070" stroke-width="1.4"/>
<text x="0" y="0" font-size="7.7" text-anchor="start" font-weight="normal" font-style="normal" fill="#000" transform="translate(172.1 375) scale(1.0 1.05)">GGF</text>
<line x1="159.8" y1="382.3" x2="169.1" y2="382.3" stroke="#283455" stroke-width="1.4"/>
<text x="0" y="0" font-size="7.7" text-anchor="start" font-weight="normal" font-style="normal" fill="#000" transform="translate(172.1 384.6) scale(1.0 1.05)">Normal</text>
<text x="0" y="0" font-size="8.2" text-anchor="middle" font-weight="normal" font-style="normal" fill="#000" transform="translate(162.9 442.4) scale(1.0 1.05)">p-CREB</text>
<text class="r" x="0" y="0" font-size="8.2" text-anchor="middle" font-weight="normal" font-style="normal" fill="#000" transform="translate(119.8 393.6) rotate(-90) scale(1.0 1.25)">Count</text>
<text x="0" y="0" font-size="11" text-anchor="start" font-weight="bold" font-style="normal" fill="#000" transform="translate(204.2 312)">F</text>
<line x1="236.6" y1="335.35" x2="236.6" y2="431.1" stroke="#000" stroke-width="1.3"/>
<line x1="233.1" y1="430.5" x2="236.6" y2="430.5" stroke="#000" stroke-width="1.15"/>
<text x="0" y="0" font-size="7.7" text-anchor="end" font-weight="normal" font-style="normal" fill="#000" transform="translate(229.7 433.65) scale(1.0 1.2)">0</text>
<line x1="233.1" y1="399.65" x2="236.6" y2="399.65" stroke="#000" stroke-width="1.15"/>
<text x="0" y="0" font-size="7.7" text-anchor="end" font-weight="normal" font-style="normal" fill="#000" transform="translate(229.7 402.8) scale(1.0 1.2)">100</text>
<line x1="233.1" y1="368.8" x2="236.6" y2="368.8" stroke="#000" stroke-width="1.15"/>
<text x="0" y="0" font-size="7.7" text-anchor="end" font-weight="normal" font-style="normal" fill="#000" transform="translate(229.7 371.95) scale(1.0 1.2)">200</text>
<line x1="233.1" y1="337.95" x2="236.6" y2="337.95" stroke="#000" stroke-width="1.15"/>
<text x="0" y="0" font-size="7.7" text-anchor="end" font-weight="normal" font-style="normal" fill="#000" transform="translate(229.7 341.1) scale(1.0 1.2)">300</text>
<line x1="236.6" y1="430.5" x2="314.2" y2="430.5" stroke="#000" stroke-width="1.35"/>
<rect x="239.8" y="362.8" width="18.8" height="67.7" fill="#000000"/>
<line x1="249.2" y1="351.2" x2="249.2" y2="362.8" stroke="#111" stroke-width="1.15"/>
<line x1="244.95" y1="351.2" x2="253.45" y2="351.2" stroke="#111" stroke-width="1.25"/>
<line x1="249.2" y1="430.5" x2="249.2" y2="432.8" stroke="#000" stroke-width="1.15"/>
<text x="0" y="0" font-size="8" text-anchor="middle" font-weight="normal" font-style="normal" fill="#000" transform="translate(249.2 443) scale(1.0 1.05)">PGF</text>
<text x="0" y="0" font-size="8" text-anchor="middle" font-weight="normal" font-style="normal" fill="#000" transform="translate(249.2 452.6) scale(1.0 1.05)">(N=8)</text>
<rect x="265.8" y="362" width="18.7" height="68.5" fill="#6a6a6a"/>
<line x1="275.15" y1="348.2" x2="275.15" y2="362" stroke="#111" stroke-width="1.15"/>
<line x1="270.95" y1="348.2" x2="279.35" y2="348.2" stroke="#111" stroke-width="1.25"/>
<line x1="275.15" y1="430.5" x2="275.15" y2="432.8" stroke="#000" stroke-width="1.15"/>
<text x="0" y="0" font-size="8" text-anchor="middle" font-weight="normal" font-style="normal" fill="#000" transform="translate(275.15 443) scale(1.0 1.05)">GGF</text>
<text x="0" y="0" font-size="8" text-anchor="middle" font-weight="normal" font-style="normal" fill="#000" transform="translate(275.15 452.6) scale(1.0 1.05)">(N=8)</text>
<rect x="291.7" y="365.4" width="18.5" height="65.1" fill="#b3b3b3"/>
<line x1="300.95" y1="350.5" x2="300.95" y2="365.4" stroke="#111" stroke-width="1.15"/>
<line x1="296.5" y1="350.5" x2="305.4" y2="350.5" stroke="#111" stroke-width="1.25"/>
<line x1="300.95" y1="430.5" x2="300.95" y2="432.8" stroke="#000" stroke-width="1.15"/>
<text x="0" y="0" font-size="8" text-anchor="middle" font-weight="normal" font-style="normal" fill="#000" transform="translate(300.95 443) scale(1.0 1.05)">Normal</text>
<text x="0" y="0" font-size="8" text-anchor="middle" font-weight="normal" font-style="normal" fill="#000" transform="translate(300.95 452.6) scale(1.0 1.05)">(N=8)</text>
<text class="r" x="0" y="0" font-size="8.3" text-anchor="middle" font-weight="normal" font-style="normal" fill="#000" transform="translate(212.3 383.1) rotate(-90) scale(1.05 1.0)">p-C-Jun level (MFI)</text>
<polyline points="326.5,428.17 327.1,428.01 327.7,427.82 328.3,427.62 328.9,427.4 329.5,427.15 330.1,426.87 330.7,426.56 331.3,426.22 331.9,425.82 332.5,425.36 333.1,424.82 333.7,424.15 334.3,423.33 334.9,422.29 335.5,420.97 336.1,419.3 336.7,417.21 337.3,414.63 337.9,411.5 338.5,407.81 339.1,403.58 339.7,398.88 340.3,393.86 340.9,388.71 341.5,383.69 342.1,379.08 342.7,375.17 343.3,372.23 343.9,370.47 344.5,370.02 345.1,370.81 345.7,372.75 346.3,375.69 346.9,379.46 347.5,383.83 348.1,388.55 348.7,393.38 349.3,398.12 349.9,402.58 350.5,406.65 351.1,410.25 351.7,413.34 352.3,415.95 352.9,418.09 353.5,419.83 354.1,421.23 354.7,422.34 355.3,423.24 355.9,423.96 356.5,424.55 357.1,425.05 357.7,425.47 358.3,425.84 358.9,426.18 359.5,426.48 360.1,426.75 360.7,427 361.3,427.24 361.9,427.45 362.5,427.64 363.1,427.82 363.7,427.99 364.3,428.13 364.9,428.27 365.5,428.39 366.1,428.49 366.7,428.59 367.3,428.68 367.9,428.75 368.5,428.82 369.1,428.87 369.7,428.92 370.3,428.97 370.9,429 371.5,429.04" fill="none" stroke="#283455" stroke-width="1.15" stroke-linejoin="round" stroke-linecap="round"/>
<polyline points="327.5,428.83 328.1,428.75 328.7,428.66 329.3,428.55 329.9,428.42 330.5,428.27 331.1,428.11 331.7,427.92 332.3,427.7 332.9,427.46 333.5,427.17 334.1,426.83 334.7,426.4 335.3,425.86 335.9,425.16 336.5,424.23 337.1,423 337.7,421.39 338.3,419.32 338.9,416.74 339.5,413.64 340.1,410.1 340.7,406.24 341.3,402.29 341.9,398.52 342.5,395.25 343.1,392.78 343.7,391.38 344.3,391.16 344.9,392.07 345.5,393.97 346.1,396.71 346.7,400.03 347.3,403.67 347.9,407.38 348.5,410.93 349.1,414.17 349.7,416.99 350.3,419.34 350.9,421.25 351.5,422.76 352.1,423.93 352.7,424.82 353.3,425.5 353.9,426.03 354.5,426.46 355.1,426.8 355.7,427.1 356.3,427.35 356.9,427.58 357.5,427.78 358.1,427.96 358.7,428.12 359.3,428.27 359.9,428.4 360.5,428.52 361.1,428.62 361.7,428.71 362.3,428.79 362.9,428.86 363.5,428.91 364.1,428.96 364.7,429.01 365.3,429.04 365.9,429.07 366.5,429.1 367.1,429.12 367.7,429.13" fill="none" stroke="#76b070" stroke-width="1.15" stroke-linejoin="round" stroke-linecap="round"/>
<polyline points="328.5,428.99 329.1,428.93 329.7,428.86 330.3,428.77 330.9,428.67 331.5,428.55 332.1,428.41 332.7,428.24 333.3,428.05 333.9,427.82 334.5,427.54 335.1,427.19 335.7,426.73 336.3,426.1 336.9,425.22 337.5,424 338.1,422.34 338.7,420.14 339.3,417.37 339.9,414.06 340.5,410.35 341.1,406.52 341.7,402.91 342.3,399.94 342.9,397.99 343.5,397.3 344.1,397.92 344.7,399.7 345.3,402.42 345.9,405.77 346.5,409.39 347.1,412.97 347.7,416.24 348.3,419.06 348.9,421.36 349.5,423.15 350.1,424.49 350.7,425.48 351.3,426.2 351.9,426.73 352.5,427.14 353.1,427.45 353.7,427.71 354.3,427.93 354.9,428.12 355.5,428.28 356.1,428.43 356.7,428.55 357.3,428.66 357.9,428.76 358.5,428.84 359.1,428.91 359.7,428.96 360.3,429.01 360.9,429.05 361.5,429.08 362.1,429.11 362.7,429.13 363.3,429.15 363.9,429.16 364.5,429.17" fill="none" stroke="#8e1d3f" stroke-width="1.15" stroke-linejoin="round" stroke-linecap="round"/>
<rect x="325.9" y="355.1" width="74.4" height="74.4" fill="none" stroke="#000" stroke-width="1.55"/>
<line x1="360.1" y1="361.9" x2="369.6" y2="361.9" stroke="#8e1d3f" stroke-width="1.4"/>
<text x="0" y="0" font-size="7.5" text-anchor="start" font-weight="normal" font-style="normal" fill="#000" transform="translate(373 364.2) scale(1.0 1.05)">PGF</text>
<line x1="360.1" y1="371.65" x2="369.6" y2="371.65" stroke="#76b070" stroke-width="1.4"/>
<text x="0" y="0" font-size="7.5" text-anchor="start" font-weight="normal" font-style="normal" fill="#000" transform="translate(373 373.95) scale(1.0 1.05)">GGF</text>
<line x1="360.1" y1="381.4" x2="369.6" y2="381.4" stroke="#283455" stroke-width="1.4"/>
<text x="0" y="0" font-size="7.5" text-anchor="start" font-weight="normal" font-style="normal" fill="#000" transform="translate(373 383.7) scale(1.0 1.05)">Normal</text>
<text x="0" y="0" font-size="8.7" text-anchor="middle" font-weight="normal" font-style="normal" fill="#000" transform="translate(363.3 441.6) scale(1.0 1.05)">p-c-Jun</text>
<text class="r" x="0" y="0" font-size="8.2" text-anchor="middle" font-weight="normal" font-style="normal" fill="#000" transform="translate(320.6 392) rotate(-90) scale(1.0 1.25)">Count</text>
<text x="0" y="0" font-size="11" text-anchor="start" font-weight="bold" font-style="normal" fill="#000" transform="translate(404.3 312.2)">G</text>
<text x="0" y="0" font-size="7.5" text-anchor="middle" font-weight="normal" font-style="normal" fill="#000" transform="translate(455.6 309.5) scale(1.0 1.05)">PGF</text>
<text x="0" y="0" font-size="7.5" text-anchor="middle" font-weight="normal" font-style="normal" fill="#000" transform="translate(477.5 309.5) scale(1.0 1.05)">GGF</text>
<text x="0" y="0" font-size="7.5" text-anchor="middle" font-weight="normal" font-style="normal" fill="#000" transform="translate(501 309.5) scale(1.0 1.05)">Normal</text>
<defs><filter id="bl" x="-20%" y="-60%" width="140%" height="220%"><feGaussianBlur stdDeviation="0.9 0.7"/></filter><filter id="bl2" x="-20%" y="-60%" width="140%" height="220%"><feGaussianBlur stdDeviation="0.5 0.4"/></filter></defs>
<defs><linearGradient id="g0" x1="0" y1="0" x2="0" y2="1"><stop offset="0" stop-color="#dadada"/><stop offset="1" stop-color="#cecece"/></linearGradient><clipPath id="c0"><rect x="444.4" y="313.2" width="68.1" height="12.2"/></clipPath></defs>
<g clip-path="url(#c0)">
<rect x="444.4" y="313.2" width="68.1" height="12.2" fill="url(#g0)"/>
<g filter="url(#bl)">
<rect x="447" y="317.4" width="19.5" height="3.6" rx="1.8" fill="#7c7c7c"/>
<rect x="471.5" y="318.1" width="15" height="3" rx="1.5" fill="#9c9c9c"/>
<rect x="491" y="318.4" width="19.5" height="2.6" rx="1.3" fill="#b8b8b8"/>
</g></g>
<rect x="444.4" y="313.2" width="68.1" height="12.2" fill="none" stroke="#000" stroke-width="1.8"/>
<text x="0" y="0" font-size="8.4" text-anchor="end" font-weight="normal" font-style="normal" fill="#000" transform="translate(441.3 321.9) scale(1.0 1.05)">p-p38</text>
<defs><linearGradient id="g1" x1="0" y1="0" x2="0" y2="1"><stop offset="0" stop-color="#e4dccf"/><stop offset="1" stop-color="#c2b8a8"/></linearGradient><clipPath id="c1"><rect x="444.4" y="329" width="68.1" height="12.2"/></clipPath></defs>
<g clip-path="url(#c1)">
<rect x="444.4" y="329" width="68.1" height="12.2" fill="url(#g1)"/>
<g filter="url(#bl)">
<rect x="447" y="335.1" width="21" height="3" rx="1.5" fill="#b2a795"/>
<rect x="471" y="335.2" width="17" height="3.4" rx="1.7" fill="#968b7a"/>
<rect x="492.5" y="335.3" width="18" height="3.2" rx="1.6" fill="#9c917f"/>
</g></g>
<rect x="444.4" y="329" width="68.1" height="12.2" fill="none" stroke="#000" stroke-width="1.8"/>
<text x="0" y="0" font-size="8.4" text-anchor="end" font-weight="normal" font-style="normal" fill="#000" transform="translate(441.3 337.7) scale(1.0 1.05)">Total-p38</text>
<defs><linearGradient id="g2" x1="0" y1="0" x2="0" y2="1"><stop offset="0" stop-color="#ececec"/><stop offset="1" stop-color="#e4e4e4"/></linearGradient><clipPath id="c2"><rect x="444.4" y="345.1" width="68.1" height="12.2"/></clipPath></defs>
<g clip-path="url(#c2)">
<rect x="444.4" y="345.1" width="68.1" height="12.2" fill="url(#g2)"/>
<g filter="url(#bl)">
<rect x="445" y="347.9" width="20.6" height="6.4" rx="1.8" fill="#535353"/>
<rect x="467.6" y="347.9" width="20.2" height="6.4" rx="1.8" fill="#585858"/>
<rect x="490.2" y="347.9" width="20.8" height="6.4" rx="1.8" fill="#535353"/>
</g></g>
<rect x="444.4" y="345.1" width="68.1" height="12.2" fill="none" stroke="#000" stroke-width="1.8"/>
<text x="0" y="0" font-size="8.4" text-anchor="end" font-weight="normal" font-style="normal" fill="#000" transform="translate(441.3 353.8) scale(1.0 1.05)">p-ERK</text>
<defs><linearGradient id="g3" x1="0" y1="0" x2="0" y2="1"><stop offset="0" stop-color="#a0a0a0"/><stop offset="1" stop-color="#8c8c8c"/></linearGradient><clipPath id="c3"><rect x="444.4" y="360.9" width="68.1" height="12.2"/></clipPath></defs>
<g clip-path="url(#c3)">
<rect x="444.4" y="360.9" width="68.1" height="12.2" fill="url(#g3)"/>
<g filter="url(#bl)">
<rect x="446" y="366.1" width="20" height="4" rx="1.8" fill="#7e7e7e"/>
<rect x="468" y="365.8" width="21" height="4.6" rx="1.8" fill="#6c6c6c"/>
<rect x="490" y="366.1" width="21" height="4" rx="1.8" fill="#7a7a7a"/>
</g></g>
<rect x="444.4" y="360.9" width="68.1" height="12.2" fill="none" stroke="#000" stroke-width="1.8"/>
<text x="0" y="0" font-size="8.4" text-anchor="end" font-weight="normal" font-style="normal" fill="#000" transform="translate(441.3 369.6) scale(1.0 1.05)">Total-ERK</text>
<defs><linearGradient id="g4" x1="0" y1="0" x2="0" y2="1"><stop offset="0" stop-color="#7c7c7c"/><stop offset="1" stop-color="#747474"/></linearGradient><clipPath id="c4"><rect x="444.4" y="375.8" width="68.1" height="12.2"/></clipPath></defs>
<g clip-path="url(#c4)">
<rect x="444.4" y="375.8" width="68.1" height="12.2" fill="url(#g4)"/>
<g filter="url(#bl)">
<rect x="446" y="379.3" width="20" height="6" rx="1.8" fill="#777777"/>
<rect x="468" y="378.8" width="24" height="7" rx="1.8" fill="#666666"/>
<rect x="494" y="379.3" width="17" height="6" rx="1.8" fill="#6e6e6e"/>
</g></g>
<rect x="444.4" y="375.8" width="68.1" height="12.2" fill="none" stroke="#000" stroke-width="1.8"/>
<text x="0" y="0" font-size="8.4" text-anchor="end" font-weight="normal" font-style="normal" fill="#000" transform="translate(441.3 384.5) scale(1.0 1.05)">p-JNK</text>
<defs><linearGradient id="g5" x1="0" y1="0" x2="0" y2="1"><stop offset="0" stop-color="#626262"/><stop offset="1" stop-color="#6a6a6a"/></linearGradient><clipPath id="c5"><rect x="444.4" y="391.9" width="68.1" height="12.2"/></clipPath></defs>
<g clip-path="url(#c5)">
<rect x="444.4" y="391.9" width="68.1" height="12.2" fill="url(#g5)"/>
<g filter="url(#bl)">
<rect x="445" y="393.7" width="66" height="1.6" rx="0.8" fill="#3e3e3e"/>
<rect x="445" y="397.9" width="66" height="3" rx="1.5" fill="#5c5c5c"/>
</g></g>
<rect x="444.4" y="391.9" width="68.1" height="12.2" fill="none" stroke="#000" stroke-width="1.8"/>
<text x="0" y="0" font-size="8.4" text-anchor="end" font-weight="normal" font-style="normal" fill="#000" transform="translate(441.3 400.6) scale(1.0 1.05)">Total-JNK</text>
<defs><linearGradient id="g6" x1="0" y1="0" x2="0" y2="1"><stop offset="0" stop-color="#d8d8d8"/><stop offset="1" stop-color="#d0d0d0"/></linearGradient><clipPath id="c6"><rect x="444.4" y="408.1" width="68.1" height="12.2"/></clipPath></defs>
<g clip-path="url(#c6)">
<rect x="444.4" y="408.1" width="68.1" height="12.2" fill="url(#g6)"/>
<g filter="url(#bl)">
<rect x="446" y="410" width="20" height="7" rx="1.8" fill="#7c7c7c"/>
<rect x="469" y="410.5" width="19.5" height="7.2" rx="1.8" fill="#828282"/>
<rect x="492" y="410.5" width="19" height="7.2" rx="1.8" fill="#808080"/>
</g></g>
<rect x="444.4" y="408.1" width="68.1" height="12.2" fill="none" stroke="#000" stroke-width="1.8"/>
<text x="0" y="0" font-size="8.4" text-anchor="end" font-weight="normal" font-style="normal" fill="#000" transform="translate(441.3 416.8) scale(1.0 1.05)">p-Akt</text>
<defs><linearGradient id="g7" x1="0" y1="0" x2="0" y2="1"><stop offset="0" stop-color="#f2f2f2"/><stop offset="1" stop-color="#ececec"/></linearGradient><clipPath id="c7"><rect x="444.4" y="424.1" width="68.1" height="12.2"/></clipPath></defs>
<g clip-path="url(#c7)">
<rect x="444.4" y="424.1" width="68.1" height="12.2" fill="url(#g7)"/>
<g filter="url(#bl)">
<rect x="447" y="427.8" width="15" height="1.8" rx="0.9" fill="#cccccc"/>
<rect x="470" y="428.5" width="18" height="2" rx="1" fill="#a2a2a2"/>
<rect x="493" y="428.5" width="15" height="2" rx="1" fill="#aaaaaa"/>
</g></g>
<rect x="444.4" y="424.1" width="68.1" height="12.2" fill="none" stroke="#000" stroke-width="1.8"/>
<text x="0" y="0" font-size="8.4" text-anchor="end" font-weight="normal" font-style="normal" fill="#000" transform="translate(441.3 432.8) scale(1.0 1.05)">Total-Akt</text>
<defs><linearGradient id="g8" x1="0" y1="0" x2="0" y2="1"><stop offset="0" stop-color="#e4e4e4"/><stop offset="1" stop-color="#dadada"/></linearGradient><clipPath id="c8"><rect x="444.4" y="439.1" width="68.1" height="12.2"/></clipPath></defs>
<g clip-path="url(#c8)">
<rect x="444.4" y="439.1" width="68.1" height="12.2" fill="url(#g8)"/>
<g filter="url(#bl)">
<rect x="445.3" y="440.6" width="21.2" height="9" rx="1.8" fill="#4e4e4e"/>
<rect x="470" y="440.6" width="16.5" height="9" rx="1.8" fill="#555555"/>
<rect x="489.5" y="440.6" width="19" height="9" rx="1.8" fill="#535353"/>
</g></g>
<rect x="444.4" y="439.1" width="68.1" height="12.2" fill="none" stroke="#000" stroke-width="1.8"/>
<text x="0" y="0" font-size="8.4" text-anchor="end" font-weight="normal" font-style="normal" fill="#000" transform="translate(441.3 447.8) scale(1.0 1.05)">GADPH</text>
<rect x="0" y="0" width="520" height="1.1" fill="#000"/>
<rect x="0" y="0" width="1.3" height="462" fill="#000"/>
<rect x="518.3" y="0" width="1.7" height="462" fill="#000"/>
<rect x="0" y="460.3" width="520" height="1.7" fill="#000"/>
</g></svg></body></html>
